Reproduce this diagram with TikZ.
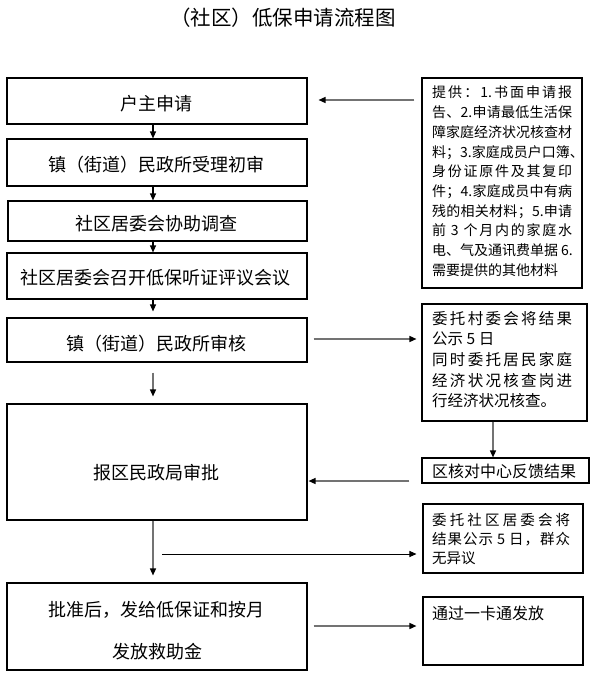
\documentclass[tikz,border=0pt]{standalone}
\usepackage{fontspec}
\setmainfont{Noto Sans CJK SC}
\usetikzlibrary{arrows.meta}
\def\jstopmark{\jstop}
\def\jspread#1{\def\jtmp{#1}\ifx\jtmp\jstopmark\else#1\hskip0pt plus 1fil\expandafter\jspread\fi}
\newcommand\jline[2]{\makebox[#1][s]{\jspread#2\jstop\unskip}}
\newcommand\dg[1]{\hspace{3pt}#1\hspace{3pt}}
\begin{document}
\begin{tikzpicture}[x=1pt,y=-1pt,
  box/.style={draw, line width=1.1pt, inner sep=0pt},
  mtext/.style={inner sep=0pt, font=\fontsize{18pt}{22pt}\selectfont},
  rtext/.style={inner sep=0pt, align=left, anchor=north west},
  tip/.style={-{Triangle[length=7pt,width=6pt,color=black]}},
  arr/.style={tip, draw=black, line width=1.2pt},
  garr/.style={tip, draw=black!55, line width=1.4pt},
  harr/.style={tip, draw=black, line width=1pt}]
\fill[white] (0,0) rectangle (595,682);
\useasboundingbox (0,0) rectangle (595,682);

% title
\node[inner sep=0pt, font=\fontsize{20.5pt}{24pt}\selectfont] (title) at (283,18) {（社区）低保申请流程图};

% main column boxes
\node[box, minimum width=300pt, minimum height=46pt] (b1) at (157,101) {};
\node[box, minimum width=300pt, minimum height=47pt] (b2) at (157,162.5) {};
\node[box, minimum width=299pt, minimum height=40pt] (b3) at (157.5,221) {};
\node[box, minimum width=300pt, minimum height=46pt] (b4) at (157,276) {};
\node[box, minimum width=300pt, minimum height=44pt] (b5) at (157,340) {};
\node[box, minimum width=300pt, minimum height=116pt] (b6) at (157,462) {};
\node[box, minimum width=300pt, minimum height=87pt] (b7) at (157,626.5) {};

\node[mtext] (t1) at (156,103.5) {户主申请};
\node[mtext] (t2) at (156,165) {镇（街道）民政所受理初审};
\node[mtext] (t3) at (156.5,224) {社区居委会协助调查};
\node[mtext] (t4) at (155.5,278) {社区居委会召开低保听证评议会议};
\node[mtext] (t5) at (156.5,344) {镇（街道）民政所审核};
\node[mtext] (t6) at (156,473) {报区民政局审批};
\node[mtext] (t7a) at (156,610) {批准后，发给低保证和按月};
\node[mtext] (t7b) at (157,652) {发放救助金};

% right column boxes
\node[box, minimum width=160pt, minimum height=210pt] (r1) at (502,183) {};
\node[box, minimum width=165pt, minimum height=117pt] (ra) at (504.5,362.5) {};
\node[box, minimum width=167pt, minimum height=25pt] (rf) at (505.5,470.5) {};
\node[box, minimum width=160pt, minimum height=69pt] (rb) at (503,538.5) {};
\node[box, minimum width=160pt, minimum height=68pt] (rc) at (503,631) {};

\node[rtext, font=\fontsize{14pt}{19.7pt}\selectfont] (r1t) at (432,86) {%
\jline{140pt}{提供：{1.}书面申请报}\\
\jline{140pt}{告、{2.}申请最低生活保}\\
\jline{140pt}{障家庭经济状况核查材}\\
\jline{140pt}{料；{3.}家庭成员户口簿、}\\
\jline{140pt}{身份证原件及其复印}\\
\jline{140pt}{件；{4.}家庭成员中有病}\\
\jline{140pt}{残的相关材料；{5.}申请}\\
\jline{140pt}{前{\dg{3}}个月内的家庭水}\\
\jline{140pt}{电、气及通讯费单据{\hspace{3pt}6.}}\\
需要提供的其他材料};

\node[rtext, font=\fontsize{15.5pt}{20.6pt}\selectfont] (rat) at (432,311) {%
\jline{140pt}{委托村委会将结果}\\
公示 5 日\\
\jline{140pt}{同时委托居民家庭}\\
\jline{140pt}{经济状况核查岗进}\\
行经济状况核查。};

\node[inner sep=0pt, font=\fontsize{16pt}{20pt}\selectfont, anchor=west] (rft) at (432,471) {区核对中心反馈结果};

\node[rtext, font=\fontsize{14.5pt}{19pt}\selectfont] (rbt) at (432,513.5) {%
\jline{138pt}{委托社区居委会将}\\
\jline{138pt}{结果公示{\dg{5}}日，群众}\\
无异议};

\node[inner sep=0pt, font=\fontsize{16pt}{20pt}\selectfont, anchor=west] (rct) at (432,613) {通过一卡通发放};

% connectors
\coordinate (ax) at (153,0);
\coordinate (rx) at (493,0);
\coordinate (y1) at (0,100);
\coordinate (y5) at (0,339);
\coordinate (yf) at (0,481);
\coordinate (y7) at (0,626);
\coordinate (h0) at (162,554);

\draw[arr] (b1.south -| ax) -- (b2.north -| ax);
\draw[arr] (b2.south -| ax) -- (b3.north -| ax);
\draw[arr] (b3.south -| ax) -- (b4.north -| ax);
\draw[arr, shorten >=6pt] (b4.south -| ax) -- (b5.north -| ax);
\draw[garr, shorten <=10pt, shorten >=7pt] (b5.south -| ax) -- (b6.north -| ax);
\draw[garr, shorten >=7pt] (b6.south -| ax) -- (b7.north -| ax);

\draw[garr, shorten <=7pt, shorten >=11pt] (r1.west |- y1) -- (b1.east |- y1);
\draw[garr, shorten <=6pt, shorten >=5pt] (b5.east |- y5) -- (ra.west |- y5);
\draw[garr] (ra.south -| rx) -- (rf.north -| rx);
\draw[garr, shorten <=12pt, shorten >=1pt] (rf.west |- yf) -- (b6.east |- yf);
\draw[harr, shorten >=6pt] (h0) -- (rb.west |- h0);
\draw[garr, shorten <=6pt, shorten >=6pt] (b7.east |- y7) -- (rc.west |- y7);
\end{tikzpicture}
\end{document}
